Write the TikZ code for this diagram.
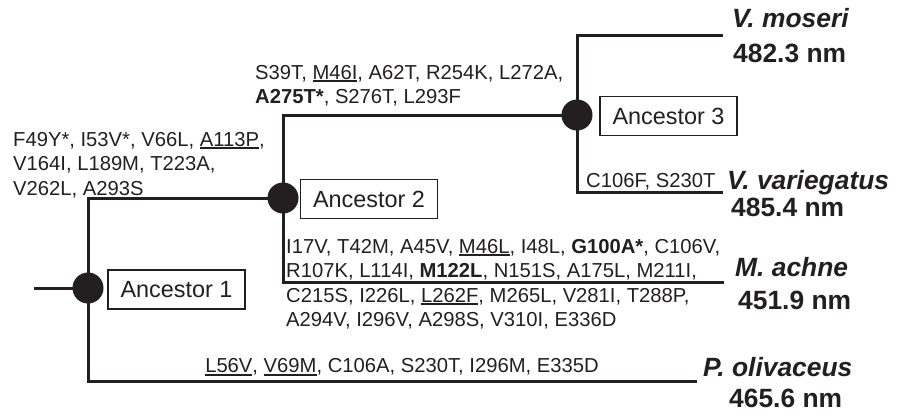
\documentclass[tikz,border=0pt]{standalone}
\usepackage{fontspec}
\setmainfont{Liberation Sans}
\usetikzlibrary{backgrounds}
\definecolor{ink}{RGB}{35,31,32}
\newcommand\ulx[1]{\setbox0\hbox{#1}\rlap{\color{ink}\rule[-3bp]{\wd0}{1.6bp}}\box0}
\begin{document}
\begin{tikzpicture}[x=1bp,y=-1bp,
  branch/.style={line width=3bp, draw=ink},
  anc/.style={circle, fill=ink, minimum size=31bp, inner sep=0},
  lbl/.style={draw=ink, line width=1.2bp, text=ink, font=\fontsize{23.5}{28}\selectfont,
    minimum height=39bp, minimum width=137bp, inner sep=0},
  mut/.style={font=\fontsize{20.3}{25}\selectfont, text=ink, align=left, inner sep=0, anchor=north west},
  sp/.style={font=\fontsize{26.5}{30}\selectfont\bfseries\itshape, text=ink, inner sep=0, anchor=base west},
  nm/.style={font=\fontsize{26.5}{30}\selectfont\bfseries, text=ink, inner sep=0, anchor=base west}]
\useasboundingbox (0,0) rectangle (898,415);
% ancestors
\node[anc] (a1) at (88,288) {};
\node[anc] (a2) at (283,198) {};
\node[anc] (a3) at (577,115) {};
\coordinate (root) at (34,288);
\coordinate (vm) at (723,35);
\coordinate (vv) at (723,192);
\coordinate (ma) at (724,282);
\coordinate (po) at (697,381);
\begin{scope}[on background layer]
\draw[branch] (root) -- (a1.center);
\draw[branch] (a1.center) |- (a2.center);
\draw[branch] (a1.center) |- (po);
\draw[branch] (a2.center) |- (a3.center);
\draw[branch] (a2.center) |- (ma);
\draw[branch] (a3.center) |- (vm);
\draw[branch] (a3.center) |- (vv);
\end{scope}
% ancestor labels
\node[lbl] (b1) at (176.5,289.5) {Ancestor 1};
\node[lbl] (b2) at (369,199) {Ancestor 2};
\node[lbl] (b3) at (668.5,116) {Ancestor 3};
% mutations
\node[mut] (t1) at (13,131.7) {F49Y*, I53V*, V66L, \ulx{A113P},\\V164I, L189M, T223A,\\V262L, A293S};
\node[mut] (t2) at (255,64.7) {S39T, \ulx{M46I}, A62T, R254K, L272A,\\\textbf{A275T*}, S276T, L293F};
\node[mut] (t3a) at (286,238.7) {I17V, T42M, A45V, \ulx{M46L}, I48L, \textbf{G100A*}, C106V,\\R107K, L114I, \textbf{M122L}, N151S, A175L, M211I,};
\node[mut] (t3b) at (286,287.7) {C215S, I226L, \ulx{L262F}, M265L, V281I, T288P,\\A294V, I296V, A298S, V310I, E336D};
\node[mut, anchor=center] (t4) at (402,367) {\ulx{L56V}, \ulx{V69M}, C106A, S230T, I296M, E335D};
\node[mut] (t5) at (586,172.7) {C106F, S230T};
% species
\node[sp] (s1) at (732,27) {V. moseri};
\node[nm] (n1) at (733,62) {482.3 nm};
\node[sp] (s2) at (727,189) {V. variegatus};
\node[nm] (n2) at (731,216) {485.4 nm};
\node[sp] (s3) at (735,276) {M. achne};
\node[nm] (n3) at (738,309) {451.9 nm};
\node[sp] (s4) at (703,376) {P. olivaceus};
\node[nm] (n4) at (729,407) {465.6 nm};
\end{tikzpicture}
\end{document}
